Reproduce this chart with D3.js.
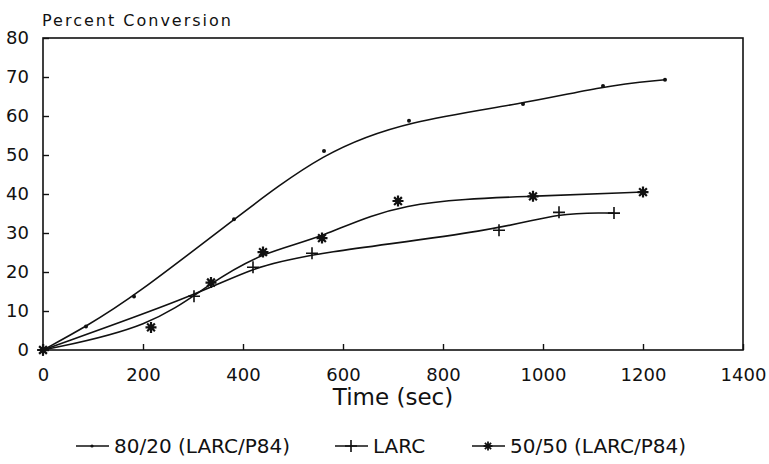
<!DOCTYPE html>
<html>
<head>
<meta charset="utf-8">
<script src="https://cdn.jsdelivr.net/npm/d3@7"></script>
<style>
  body { margin: 0; background: #fff; }
  text { font-family: "DejaVu Sans", sans-serif; fill: #111; }
</style>
</head>
<body>
<div id="chart"></div>
<script>
// Data (time in sec, percent conversion)
var time8020 = [0, 86, 182, 382, 562, 732, 960, 1120, 1244];
var conv8020 = [0, 6, 13.7, 33.5, 51, 58.8, 63.1, 67.7, 69.3];

var timeLarc = [0, 302, 420, 538, 912, 1032, 1142];
var convLarc = [0, 13.8, 21.2, 24.8, 30.7, 35.3, 35.1];

var time5050 = [0, 216, 336, 440, 558, 710, 980, 1200];
var conv5050 = [0, 5.8, 17.3, 25.1, 28.7, 38.2, 39.4, 40.5];

var xTicks = [0, 200, 400, 600, 800, 1000, 1200, 1400];
var yTicks = [0, 10, 20, 30, 40, 50, 60, 70, 80];

var seriesNames = ["80/20 (LARC/P84)", "LARC", "50/50 (LARC/P84)"];
var markerTypes = ["dot", "plus", "star"];

var width = 769, height = 464;
var margin = { top: 38, left: 43, right: 26, bottom: 114 };
var w = width - margin.left - margin.right;
var h = height - margin.top - margin.bottom;

var svg = d3.select("#chart").append("svg")
  .attr("width", width).attr("height", height);

var g = svg.append("g")
  .attr("transform", "translate(" + margin.left + "," + margin.top + ")");

var x_scale = d3.scaleLinear().domain([0, 1400]).range([0, w]);
var y_scale = d3.scaleLinear().domain([0, 80]).range([h, 0]);

// frame
g.append("rect")
  .attr("width", w).attr("height", h)
  .attr("fill", "none").attr("stroke", "#111").attr("stroke-width", 1.6);

// bottom axis: ticks pointing inward
var xaxis = g.append("g")
  .attr("transform", "translate(0," + h + ")")
  .call(d3.axisBottom(x_scale).tickValues(xTicks).tickFormat(d3.format("d"))
    .tickSizeInner(-6).tickSizeOuter(0).tickPadding(18));
xaxis.select(".domain").remove();
xaxis.selectAll("line").attr("stroke", "#111").attr("stroke-width", 1.4);
xaxis.selectAll("text").style("font-size", "18px").attr("fill", "#111");

// left axis
var yaxis = g.append("g")
  .call(d3.axisLeft(y_scale).tickValues(yTicks).tickFormat(d3.format("d"))
    .tickSizeInner(-6).tickSizeOuter(0).tickPadding(14));
yaxis.select(".domain").remove();
yaxis.selectAll("line").attr("stroke", "#111").attr("stroke-width", 1.4);
yaxis.selectAll("text").style("font-size", "18px").attr("fill", "#111");

// axis titles
svg.append("text")
  .attr("x", 42).attr("y", 26)
  .style("font-size", "16px")
  .style("letter-spacing", "2px")
  .text("Percent Conversion");

svg.append("text")
  .attr("x", margin.left + x_scale(700)).attr("y", 405)
  .attr("text-anchor", "middle")
  .style("font-size", "23px")
  .text("Time (sec)");

var line = d3.line()
  .x(function(d) { return x_scale(d[0]); })
  .y(function(d) { return y_scale(d[1]); })
  .curve(d3.curveBasis);

var allSeries = [
  d3.zip(time8020, conv8020),
  d3.zip(timeLarc, convLarc),
  d3.zip(time5050, conv5050)
];

// draw a marker shape at 0,0
function drawMarker(sel, type, s) {
  if (type == "dot") {
    sel.append("circle").attr("r", 2 * s).attr("fill", "#111");
  } else if (type == "plus") {
    sel.append("path").attr("d", "M-6,0H6M0,-6V6")
      .attr("stroke", "#111").attr("stroke-width", 1.6);
  } else {
    var r = 5.5 * s;
    var d = "";
    for (var i = 0; i < 4; i++) {
      var a = i * Math.PI / 4;
      d += "M" + (-r * Math.cos(a)) + "," + (-r * Math.sin(a)) +
           "L" + (r * Math.cos(a)) + "," + (r * Math.sin(a));
    }
    sel.append("path").attr("d", d)
      .attr("stroke", "#111").attr("stroke-width", 2.2 * s);
  }
}

allSeries.forEach(function(pts, i) {
  g.append("path")
    .datum(pts)
    .attr("fill", "none")
    .attr("stroke", "#111")
    .attr("stroke-width", 1.6)
    .attr("d", line);

  g.selectAll(".m" + i)
    .data(pts)
    .enter()
    .append("g")
    .attr("class", "m" + i)
    .attr("transform", function(d) {
      return "translate(" + x_scale(d[0]) + "," + y_scale(d[1]) + ")";
    })
    .each(function() { drawMarker(d3.select(this), markerTypes[i], 1); });
});

// legend
var legendX = [76, 335, 472];
var legendY = 446;
seriesNames.forEach(function(name, i) {
  var lg = svg.append("g").attr("transform", "translate(" + legendX[i] + "," + legendY + ")");
  lg.append("line").attr("x1", 0).attr("x2", 33).attr("y1", 0).attr("y2", 0)
    .attr("stroke", "#111").attr("stroke-width", 1.6);
  var mk = lg.append("g").attr("transform", "translate(16,0)");
  drawMarker(mk, markerTypes[i], 0.8);
  lg.append("text").attr("x", 38).attr("y", 7)
    .style("font-size", "20px")
    .text(name);
});
</script>
</body>
</html>
